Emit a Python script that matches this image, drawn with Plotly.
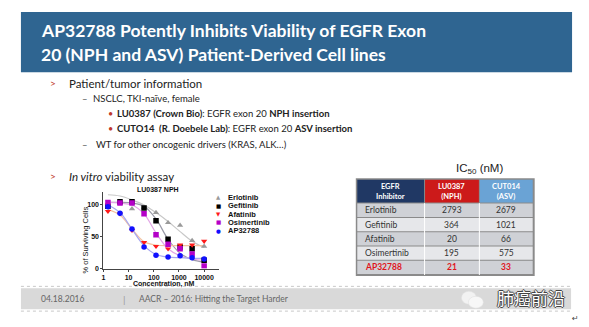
import plotly.graph_objects as go

W, H = 589, 327

def X(px):
    return px / W

def Y(py):
    return 1 - py / H

# ---------------- data ----------------
conc = [1.52, 4.57, 13.7, 41.2, 123, 370, 1111, 3333, 10000]
erlotinib = [102, 103, 94, 96, 88, 72, 68, 44, 35]
gefitinib = [98, 105, 105, 95, 75, 46, 34, 31, 13]
afatinib = [90, 86, 60, 41, 35, 31, 37, 37, 43]
osimertinib = [104, 103, 103, 86, 53, 38, 31, 23, 4]
ap32788 = [97, 87, 62, 34, 21, 18, 20, 17, 15]

# fitted curves
erlotinib_fit = [116, 114, 108, 100, 88, 74, 58, 43, 33]
gefitinib_fit = [104, 104, 103, 98, 78, 46, 24, 14, 10]
afatinib_fit = [93, 84, 62, 42, 37, 36, 36, 36, 36]
osimertinib_fit = [104, 103, 100, 86, 56, 31, 20, 15, 13]
ap32788_fit = [100, 88, 62, 36, 22, 18, 17, 16, 16]

x_tickvals = [1, 10, 100, 1000, 10000]
x_ticktext = ["1", "10", "100", "1000", "10000"]
y_tickvals = [0, 50, 100]

inhibitors = ["Erlotinib", "Gefitinib", "Afatinib", "Osimertinib", "AP32788"]
ic50_lu0387 = [2793, 364, 20, 195, 21]
ic50_cut014 = [2679, 1021, 66, 575, 33]
table_headers = ["EGFR<br>Inhibitor", "LU0387<br>(NPH)", "CUT014<br>(ASV)"]

series = [
    ("Erlotinib", erlotinib, erlotinib_fit, "#9a9a9a", "#c8c8c8", "triangle-up", "▲"),
    ("Gefitinib", gefitinib, gefitinib_fit, "#000000", "#9a9aa8", "square", "■"),
    ("Afatinib", afatinib, afatinib_fit, "#ff1a1a", "#f3c2a0", "triangle-down", "▼"),
    ("Osimertinib", osimertinib, osimertinib_fit, "#b400c8", "#e2a6e6", "square", "■"),
    ("AP32788", ap32788, ap32788_fit, "#1010ff", "#a6a6f0", "circle", "●"),
]

fig = go.Figure()

for name, vals, fit, col, fcol, sym, _ in series:
    fig.add_trace(go.Scatter(x=conc, y=fit, mode="lines", line=dict(color=fcol, width=1.2, shape="spline"),
                             hoverinfo="skip", showlegend=False))
for name, vals, fit, col, fcol, sym, _ in series:
    fig.add_trace(go.Scatter(x=conc, y=vals, mode="markers", name=name,
                             marker=dict(symbol=sym, size=5.5, color=col), showlegend=False))

axfont = dict(family="Liberation Sans", size=7, color="#111", weight="bold")
fig.update_xaxes(type="log", range=[0, 4.6], domain=[X(101.7), X(218)],
                 tickvals=x_tickvals, ticktext=x_ticktext, tickfont=axfont,
                 showline=True, linecolor="#444", linewidth=1, ticks="outside", ticklen=2,
                 tickcolor="#444", showgrid=False, zeroline=False)
fig.update_yaxes(range=[0, 120], domain=[Y(271), Y(194)], tickvals=y_tickvals, tickfont=axfont,
                 showline=True, linecolor="#444", linewidth=1, ticks="outside", ticklen=2,
                 tickcolor="#444", showgrid=False, zeroline=False)

shapes = []
ann = []

# title bar
shapes.append(dict(type="rect", xref="paper", yref="paper", x0=X(19), x1=X(572), y0=Y(73), y1=Y(12),
                   fillcolor="#2f6591", line=dict(width=0), layer="below"))
title_font = dict(family="Lato", size=17.5, color="white", weight="bold")
ann.append(dict(text="AP32788 Potently Inhibits Viability of EGFR Exon", x=X(37), y=Y(31), font=title_font))
ann.append(dict(text="20 (NPH and ASV) Patient-Derived Cell lines", x=X(37), y=Y(55), font=title_font))

# bullets
red = "#c0392b"
body = dict(family="Lato", size=11.5, color="#222")
sub = dict(family="Lato", size=9.5, color="#222")
ann.append(dict(text=">", x=X(46), y=Y(84), font=dict(family="Lato", size=10, color=red)))
ann.append(dict(text="Patient/tumor information", x=X(65), y=Y(84), font=body))
ann.append(dict(text="–", x=X(78), y=Y(99), font=dict(family="Lato", size=9.5, color="#555")))
ann.append(dict(text="NSCLC, TKI-naïve, female", x=X(89), y=Y(99), font=sub))
ann.append(dict(text="•", x=X(104), y=Y(115), font=dict(family="Lato", size=9, color=red)))
ann.append(dict(text="<b>LU0387 (Crown Bio)</b>: EGFR exon 20 <b>NPH insertion</b>", x=X(113), y=Y(115), font=sub))
ann.append(dict(text="•", x=X(104), y=Y(130), font=dict(family="Lato", size=9, color=red)))
ann.append(dict(text="<b>CUTO14  (R. Doebele Lab)</b>: EGFR exon 20 <b>ASV insertion</b>", x=X(113), y=Y(130), font=sub))
ann.append(dict(text="–", x=X(78), y=Y(146), font=dict(family="Lato", size=9.5, color="#555")))
ann.append(dict(text="WT for other oncogenic drivers (KRAS, ALK…)", x=X(92), y=Y(146), font=sub))
ann.append(dict(text=">", x=X(46), y=Y(178), font=dict(family="Lato", size=10, color=red)))
ann.append(dict(text="<i>In vitro</i> viability assay", x=X(65), y=Y(178), font=body))

# chart texts
small_b = dict(family="Liberation Sans", size=7, color="#111", weight="bold")
leg_font = dict(family="Liberation Sans", size=7.5, color="#111", weight="bold")
ann.append(dict(text="LU0387 NPH", x=X(157), y=Y(191), xanchor="center", font=small_b))
ann.append(dict(text="Concentration, nM", x=X(163), y=Y(287), xanchor="center", font=small_b))
ann.append(dict(text="% of Surviving Cells", x=X(84), y=Y(242), xanchor="center", textangle=-90,
                font=dict(family="Liberation Sans", size=7.5, color="#111")))

# manual legend
for i, (name, vals, fit, col, fcol, sym, glyph) in enumerate(series):
    yy = 199 + i * 8.5
    ann.append(dict(text=glyph, x=X(217), y=Y(yy), xanchor="center",
                    font=dict(family="DejaVu Sans", size=5.5, color=col)))
    ann.append(dict(text=name, x=X(225), y=Y(yy), font=leg_font))

# IC50 table
ann.append(dict(text="IC<sub>50</sub> (nM)", x=X(479), y=Y(171), xanchor="center",
                font=dict(family="Liberation Sans", size=11.5, color="#222")))
cols = [356, 424, 479, 533]
top, hdr_bottom, row_h = 181, 205, 14.4
shapes.append(dict(type="rect", xref="paper", yref="paper", x0=X(355), x1=X(534.5), y0=Y(278.5), y1=Y(180),
                   fillcolor="#8a8a8a", line=dict(width=0), layer="below"))
hdr_fills = ["#203864", "#cc1a1a", "#6aa3d5"]
for j in range(3):
    shapes.append(dict(type="rect", xref="paper", yref="paper", x0=X(cols[j] + 0.5), x1=X(cols[j + 1] - 0.5),
                       y0=Y(hdr_bottom - 0.5), y1=Y(top + 0.5), fillcolor=hdr_fills[j], line=dict(width=0), layer="below"))
    ann.append(dict(text="<b>" + table_headers[j] + "</b>", x=X((cols[j] + cols[j + 1]) / 2), y=Y((top + hdr_bottom) / 2),
                    xanchor="center", align="center",
                    font=dict(family="Lato", size=7.5, color="white")))
for i, name in enumerate(inhibitors):
    y0 = hdr_bottom + i * row_h
    y1 = y0 + row_h
    fill = "#cfd1d6" if i % 2 == 0 else "#e6e7ea"
    shapes.append(dict(type="rect", xref="paper", yref="paper", x0=X(cols[0] + 0.5), x1=X(cols[3] - 0.5),
                       y0=Y(y1 - 0.5), y1=Y(y0 + 0.5), fillcolor=fill, line=dict(width=0), layer="below"))
    last = i == len(inhibitors) - 1
    tcol = "#e0151c" if last else "#333"
    wrap = (lambda s: "<b>" + s + "</b>") if last else (lambda s: s)
    ym = Y((y0 + y1) / 2)
    ann.append(dict(text=wrap(name), x=X(cols[0] + 6), y=ym, font=dict(family="Lato", size=8.5, color=tcol)))
    ann.append(dict(text=wrap(str(ic50_lu0387[i])), x=X((cols[1] + cols[2]) / 2), y=ym, xanchor="center",
                    font=dict(family="Lato", size=8.5, color=tcol)))
    ann.append(dict(text=wrap(str(ic50_cut014[i])), x=X((cols[2] + cols[3]) / 2), y=ym, xanchor="center",
                    font=dict(family="Lato", size=8.5, color=tcol)))
for j in (1, 2):
    shapes.append(dict(type="line", xref="paper", yref="paper", x0=X(cols[j]), x1=X(cols[j]),
                       y0=Y(277.5), y1=Y(hdr_bottom), line=dict(color="white", width=1)))

# footer
shapes.append(dict(type="line", xref="paper", yref="paper", x0=X(19), x1=X(571), y0=Y(289), y1=Y(289),
                   line=dict(color="#c8c8c8", width=1, dash="dot")))
shapes.append(dict(type="rect", xref="paper", yref="paper", x0=X(19), x1=X(571), y0=Y(312), y1=Y(291),
                   fillcolor="#d9d9d9", line=dict(width=0), layer="below"))
shapes.append(dict(type="line", xref="paper", yref="paper", x0=X(19), x1=X(571), y0=Y(314), y1=Y(314),
                   line=dict(color="#c8c8c8", width=1, dash="dot")))
foot = dict(family="Lato", size=8.5, color="#666")
ann.append(dict(text="04.18.2016", x=X(61), y=Y(302), xanchor="center", font=foot))
ann.append(dict(text="|", x=X(123), y=Y(302), xanchor="center", font=dict(family="Lato", size=10, color="#999")))
ann.append(dict(text="AACR – 2016: Hitting the Target Harder", x=X(135), y=Y(302), font=foot))
# watermark
shapes.append(dict(type="circle", xref="paper", yref="paper", x0=X(461), x1=X(476), y0=Y(307), y1=Y(294),
                   fillcolor="#f2f2f2", line=dict(color="#e0e0e0", width=0.5)))
shapes.append(dict(type="circle", xref="paper", yref="paper", x0=X(468), x1=X(483), y0=Y(311), y1=Y(299),
                   fillcolor="#f7f7f7", line=dict(color="#dcdcdc", width=0.5)))
ann.append(dict(text="肺癌前沿", x=X(495), y=Y(300),
                font=dict(family="Noto Sans CJK SC", size=17, color="white",
                          shadow="-1px 0 #444, 1px 0 #444, 0 1px #444, 0 -1px #444")))
ann.append(dict(text="↵", x=X(575), y=Y(321), xanchor="center", font=dict(family="DejaVu Sans", size=8, color="#444")))

for a in ann:
    a.setdefault("xref", "paper")
    a.setdefault("yref", "paper")
    a.setdefault("xanchor", "left")
    a.setdefault("yanchor", "middle")
    a.setdefault("showarrow", False)

fig.update_layout(width=W, height=H, margin=dict(l=0, r=0, t=0, b=0),
                  paper_bgcolor="white", plot_bgcolor="white",
                  shapes=shapes, annotations=ann, showlegend=False)

fig.write_html("out.html")
